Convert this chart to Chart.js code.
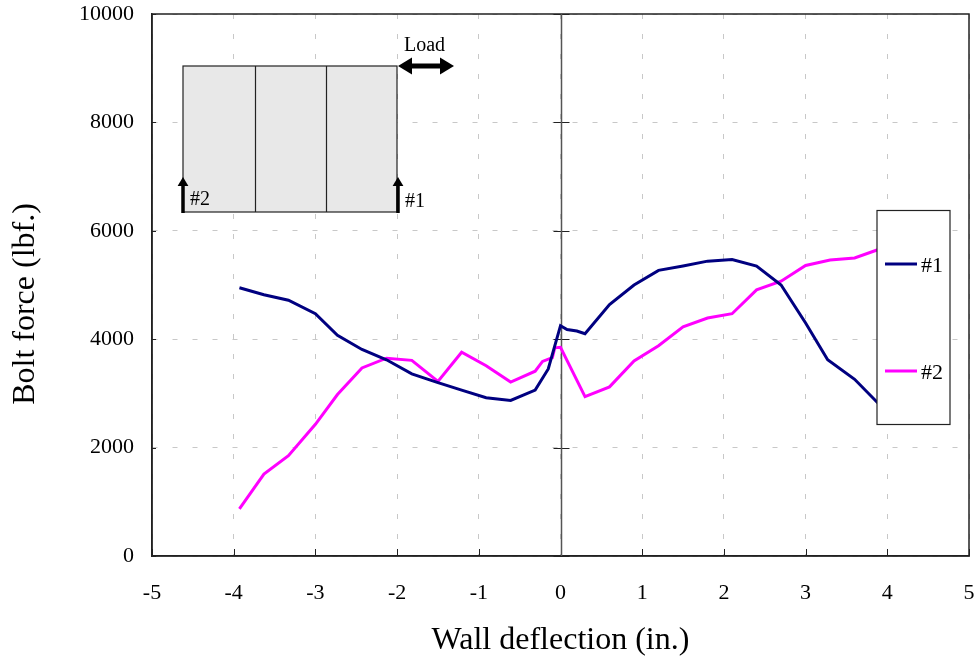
<!DOCTYPE html>
<html>
<head>
<meta charset="utf-8">
<script src="https://cdn.jsdelivr.net/npm/chart.js@4"></script>
<style>
    html, body { margin: 0; padding: 0; background: #fff; }
    #wrap { width: 977px; height: 662px; }
</style>
</head>
<body>
<div id="wrap"><canvas id="myChart" width="977" height="662"></canvas></div>
<script>
const xTicks = [-5, -4, -3, -2, -1, 0, 1, 2, 3, 4, 5];
const yTicks = [0, 2000, 4000, 6000, 8000, 10000];

const x1 = [-3.93, -3.63, -3.33, -3, -2.73, -2.43, -2.13, -1.82, -1.5, -1.21, -0.91, -0.61, -0.31, -0.15, 0, 0.08, 0.2, 0.3, 0.6, 0.9, 1.2, 1.5, 1.8, 2.1, 2.4, 2.7, 3, 3.27, 3.6, 3.9];
const y1 = [4950, 4820, 4720, 4470, 4070, 3810, 3620, 3360, 3200, 3060, 2920, 2870, 3060, 3450, 4250, 4180, 4150, 4100, 4640, 5000, 5270, 5350, 5440, 5470, 5350, 5000, 4300, 3620, 3260, 2800];

const x2 = [-3.93, -3.63, -3.33, -3, -2.73, -2.43, -2.13, -1.82, -1.5, -1.21, -0.91, -0.61, -0.31, -0.22, -0.1, -0.07, 0, 0.3, 0.6, 0.9, 1.2, 1.5, 1.8, 2.1, 2.4, 2.7, 3, 3.3, 3.6, 3.9];
const y2 = [870, 1510, 1850, 2430, 2980, 3470, 3650, 3610, 3220, 3760, 3510, 3210, 3410, 3590, 3660, 3840, 3850, 2940, 3120, 3600, 3880, 4230, 4390, 4470, 4910, 5070, 5360, 5460, 5500, 5660];

const serif = '"Liberation Serif", "Times New Roman", serif';

function zip(xs, ys) {
    return xs.map((x, i) => ({ x: x, y: ys[i] }));
}

function arrowHead(ctx, x, y, dx, dy, size) {
    // tip at x,y pointing along dx,dy
    ctx.beginPath();
    ctx.moveTo(x, y);
    ctx.lineTo(x - dx * size - dy * size * 0.6, y - dy * size - dx * size * 0.6);
    ctx.lineTo(x - dx * size + dy * size * 0.6, y - dy * size + dx * size * 0.6);
    ctx.closePath();
    ctx.fill();
}

// axis ticks, plot frame and the y axis drawn through x = 0
const axisMarks = {
    id: "axisMarks",
    beforeDatasetsDraw(chart) {
        const { ctx, scales } = chart;
        const xs = scales.x, ys = scales.y;
        const x0 = Math.round(xs.getPixelForValue(0)) + 0.5;
        ctx.save();
        ctx.strokeStyle = "#222";
        ctx.lineWidth = 1.5;
        ctx.strokeRect(xs.left, ys.top, xs.right - xs.left, ys.bottom - ys.top);
        ctx.lineWidth = 1;
        ctx.beginPath();
        xTicks.forEach((v) => {
            const px = Math.round(xs.getPixelForValue(v)) + 0.5;
            ctx.moveTo(px, ys.bottom);
            ctx.lineTo(px, ys.bottom - 7);
        });
        yTicks.forEach((v) => {
            const py = Math.round(ys.getPixelForValue(v)) + 0.5;
            ctx.moveTo(xs.left, py);
            ctx.lineTo(xs.left + 4, py);
            ctx.moveTo(x0 - 8, py);
            ctx.lineTo(x0 + 8, py);
        });
        ctx.stroke();
        ctx.strokeStyle = "#555";
        ctx.lineWidth = 1.5;
        ctx.beginPath();
        ctx.moveTo(x0, ys.top);
        ctx.lineTo(x0, ys.bottom);
        ctx.stroke();
        ctx.restore();
    },
};

// wall sketch top left, the boxed legend on the right, rotated y title
const overlay = {
    id: "overlay",
    afterDatasetsDraw(chart) {
        const { ctx } = chart;
        ctx.save();

        // wall panels
        ctx.fillStyle = "#e8e8e8";
        ctx.fillRect(183, 66, 214, 146);
        ctx.strokeStyle = "#222";
        ctx.lineWidth = 1.2;
        ctx.strokeRect(183, 66, 214, 146);
        ctx.beginPath();
        ctx.moveTo(255.5, 66);
        ctx.lineTo(255.5, 212);
        ctx.moveTo(326.5, 66);
        ctx.lineTo(326.5, 212);
        ctx.stroke();

        // bolt arrows
        ctx.strokeStyle = "#000";
        ctx.fillStyle = "#000";
        ctx.lineWidth = 3.5;
        ctx.beginPath();
        ctx.moveTo(183, 213);
        ctx.lineTo(183, 185);
        ctx.moveTo(398, 213);
        ctx.lineTo(398, 185);
        ctx.stroke();
        arrowHead(ctx, 183, 177, 0, -1, 9);
        arrowHead(ctx, 398, 177, 0, -1, 9);

        // load arrow
        ctx.lineWidth = 5;
        ctx.beginPath();
        ctx.moveTo(408, 66);
        ctx.lineTo(445, 66);
        ctx.stroke();
        arrowHead(ctx, 398, 66, -1, 0, 14);
        arrowHead(ctx, 454, 66, 1, 0, 14);

        ctx.font = "20px " + serif;
        ctx.textBaseline = "alphabetic";
        ctx.textAlign = "left";
        ctx.fillText("Load", 404, 51);
        ctx.fillText("#2", 190, 205);
        ctx.fillText("#1", 405, 207);

        // legend box
        ctx.fillStyle = "#fff";
        ctx.fillRect(877, 211, 73, 213);
        ctx.strokeStyle = "#222";
        ctx.lineWidth = 1.2;
        ctx.strokeRect(877, 210.5, 73, 214);
        chart.data.datasets.forEach((ds, i) => {
            const ly = i === 0 ? 264 : 371;
            ctx.strokeStyle = ds.borderColor;
            ctx.lineWidth = 3;
            ctx.beginPath();
            ctx.moveTo(885, ly);
            ctx.lineTo(917, ly);
            ctx.stroke();
            ctx.fillStyle = "#000";
            ctx.font = "22px " + serif;
            ctx.fillText(ds.label, 921, ly + 8);
        });

        // y title sits below the plot centre in the original
        ctx.translate(26, 304);
        ctx.rotate(-Math.PI / 2);
        ctx.textAlign = "center";
        ctx.textBaseline = "middle";
        ctx.font = "32px " + serif;
        ctx.fillStyle = "#000";
        ctx.fillText("Bolt force (lbf.)", 0, 0);
        ctx.restore();
    },
};

new Chart(document.getElementById("myChart"), {
    type: "line",
    data: {
        datasets: [
            {
                label: "#1",
                data: zip(x1, y1),
                borderColor: "#000080",
                borderWidth: 3,
                pointRadius: 0,
                tension: 0,
            },
            {
                label: "#2",
                data: zip(x2, y2),
                borderColor: "#ff00ff",
                borderWidth: 3,
                pointRadius: 0,
                tension: 0,
            },
        ],
    },
    options: {
        responsive: false,
        animation: false,
        layout: { padding: { top: 14, right: 8, left: 0, bottom: 0 } },
        plugins: {
            legend: { display: false },
            title: { display: false },
            tooltip: { enabled: false },
        },
        scales: {
            x: {
                type: "linear",
                min: -5,
                max: 5,
                afterFit: (scale) => {
                    scale.height = 106;
                    scale.paddingLeft = 0;
                    scale.paddingRight = 0;
                },
                afterBuildTicks: (scale) => { scale.ticks = xTicks.map((v) => ({ value: v })); },
                grid: { color: "#c8c8c8", drawTicks: false },
                border: { color: "#222", width: 1.5, dash: [5, 15] },
                ticks: {
                    color: "#000",
                    padding: 24,
                    maxRotation: 0,
                    font: { family: serif, size: 22 },
                },
                title: {
                    display: true,
                    text: "Wall deflection (in.)",
                    color: "#000",
                    padding: { top: 11, bottom: 2 },
                    font: { family: serif, size: 32 },
                },
            },
            y: {
                type: "linear",
                min: 0,
                max: 10000,
                afterFit: (scale) => {
                    scale.width = 152;
                    scale.paddingTop = 0;
                    scale.paddingBottom = 0;
                },
                afterBuildTicks: (scale) => { scale.ticks = yTicks.map((v) => ({ value: v })); },
                grid: { color: "#c8c8c8", drawTicks: false },
                border: { color: "#222", width: 1.5, dash: [5, 15] },
                ticks: {
                    color: "#000",
                    padding: 18,
                    callback: (v) => String(v),
                    font: { family: serif, size: 22 },
                },
            },
        },
    },
    plugins: [axisMarks, overlay],
});
</script>
</body>
</html>
